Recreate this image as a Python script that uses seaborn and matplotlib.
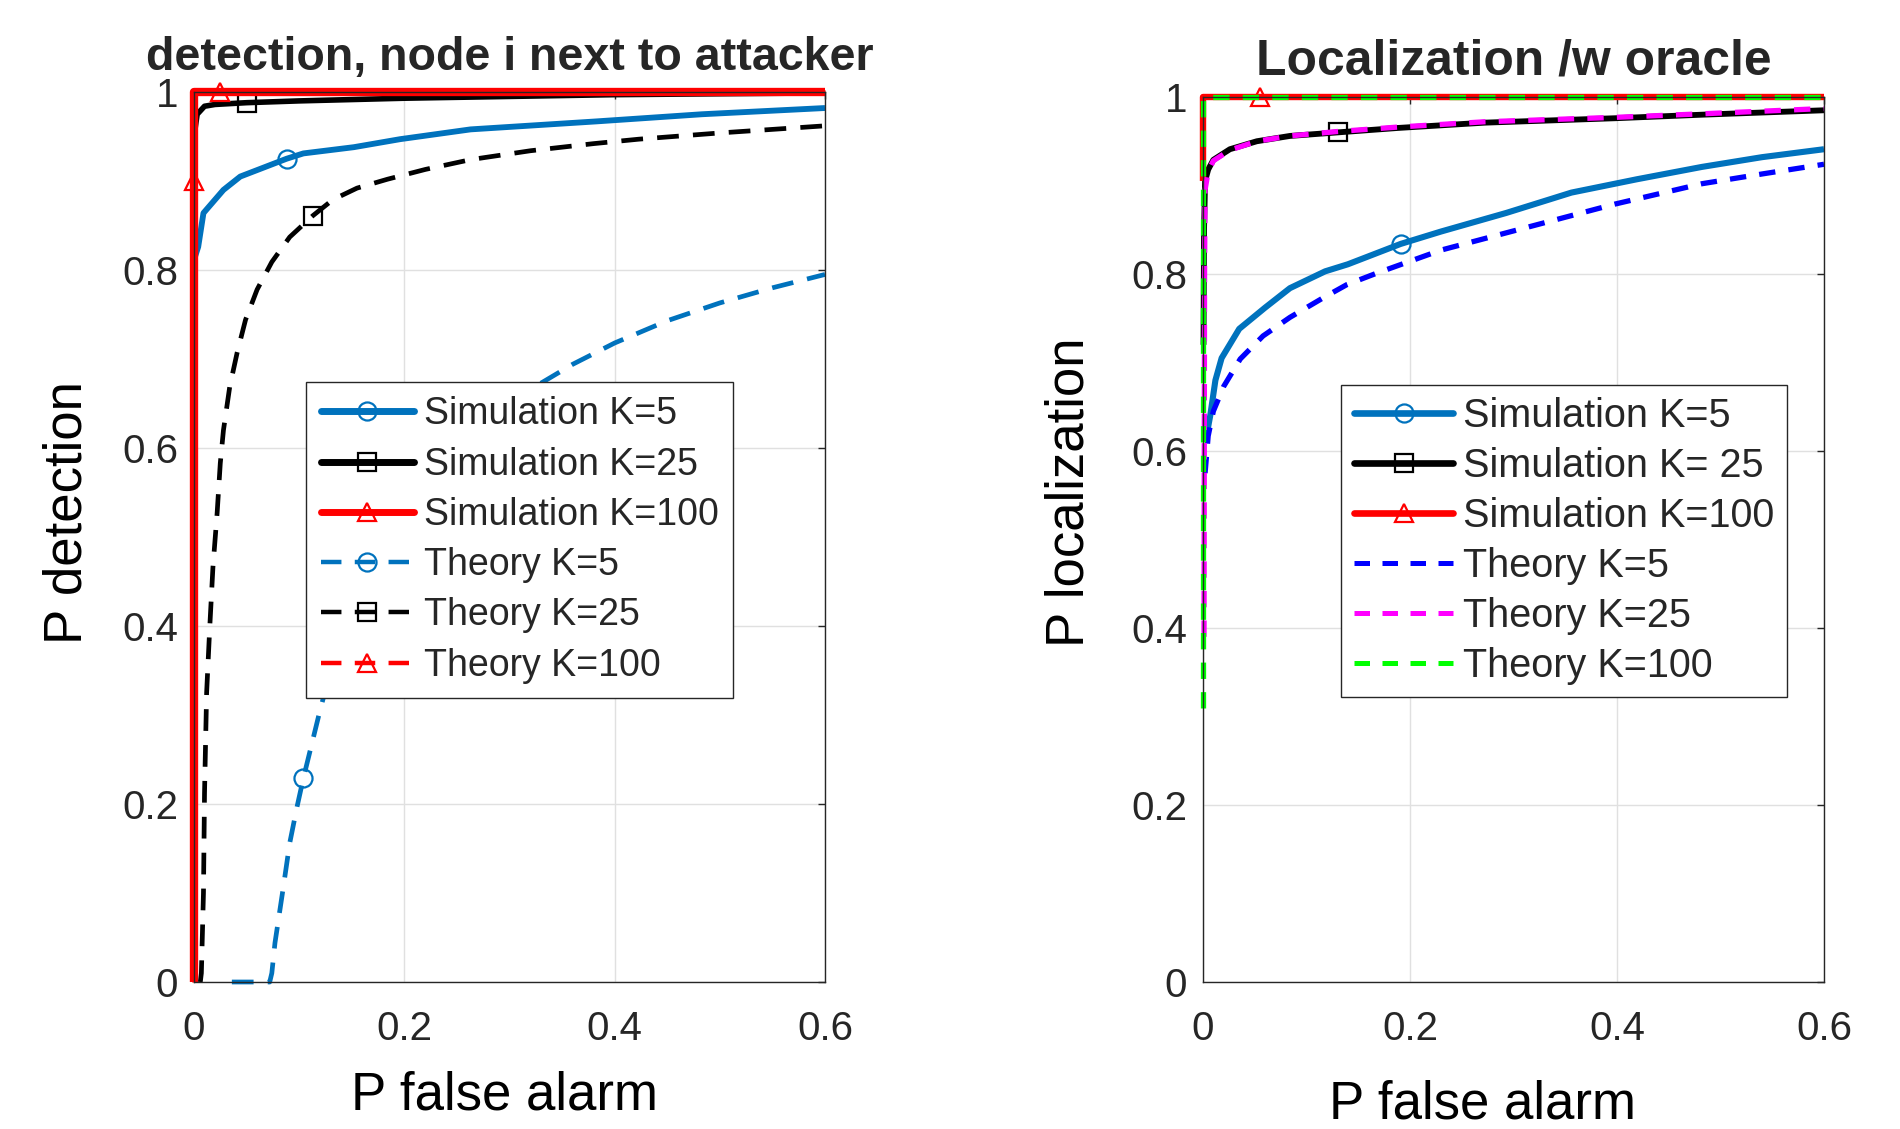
import numpy as np
import matplotlib
matplotlib.use("Agg")
import matplotlib.pyplot as plt
import seaborn as sns
from matplotlib.lines import Line2D
from matplotlib.ticker import FuncFormatter

sns.set_theme(style="white")
plt.rcParams["font.family"] = ["Liberation Sans", "DejaVu Sans"]

# ---------------- data: left panel (detection) ----------------
det_sim5_x = [0.001, 0.004, 0.009, 0.028, 0.044, 0.088, 0.104, 0.152, 0.196, 0.263, 0.383, 0.483, 0.6]
det_sim5_y = [0.815, 0.826, 0.864, 0.890, 0.905, 0.925, 0.931, 0.938, 0.947, 0.958, 0.967, 0.975, 0.982]
det_sim25_x = [0.0, 0.003, 0.01, 0.02, 0.05, 0.1, 0.2, 0.3, 0.4, 0.5, 0.6]
det_sim25_y = [0.95, 0.975, 0.984, 0.986, 0.988, 0.990, 0.993, 0.995, 0.997, 0.998, 0.999]
det_sim100_x = [0.0, 0.0, 0.025, 0.6]
det_sim100_y = [0.0, 1.0, 1.0, 1.0]
det_th5_x = [0.036, 0.072, 0.074, 0.077, 0.085, 0.091, 0.098, 0.104, 0.120, 0.13, 0.15, 0.175,
             0.2, 0.23, 0.26, 0.29, 0.323, 0.36, 0.40, 0.45, 0.50, 0.55, 0.60]
det_th5_y = [0.0, 0.0, 0.010, 0.044, 0.107, 0.156, 0.197, 0.229, 0.306, 0.35, 0.41, 0.47,
             0.52, 0.565, 0.60, 0.635, 0.668, 0.694, 0.718, 0.743, 0.763, 0.780, 0.795]
det_th25_x = [0.006, 0.007, 0.009, 0.010, 0.012, 0.015, 0.018, 0.022, 0.025, 0.028, 0.034, 0.041,
              0.049, 0.060, 0.074, 0.091, 0.113, 0.132, 0.155, 0.184, 0.22, 0.263, 0.32, 0.38,
              0.423, 0.5, 0.6]
det_th25_y = [0.0, 0.01, 0.10, 0.212, 0.325, 0.399, 0.466, 0.527, 0.583, 0.620, 0.669, 0.707,
              0.744, 0.778, 0.809, 0.837, 0.861, 0.879, 0.892, 0.902, 0.913, 0.924, 0.934, 0.942,
              0.947, 0.954, 0.962]
det_th100_x = [0.0, 0.0, 0.0, 0.6]
det_th100_y = [0.0, 0.9, 1.0, 1.0]

# ---------------- data: right panel (localization) ----------------
loc_sim5_x = [0.003, 0.007, 0.012, 0.018, 0.035, 0.06, 0.084, 0.118, 0.14, 0.191, 0.230, 0.293,
              0.356, 0.419, 0.482, 0.54, 0.6]
loc_sim5_y = [0.615, 0.640, 0.680, 0.705, 0.738, 0.762, 0.784, 0.803, 0.811, 0.834, 0.848, 0.869,
              0.892, 0.907, 0.921, 0.932, 0.941]
loc_sim25_x = [0.0005, 0.001, 0.002, 0.005, 0.010, 0.026, 0.052, 0.084, 0.130, 0.188, 0.272,
               0.398, 0.482, 0.6]
loc_sim25_y = [0.72, 0.85, 0.905, 0.918, 0.929, 0.941, 0.950, 0.956, 0.960, 0.965, 0.971,
               0.976, 0.980, 0.985]
loc_sim100_x = [0.0, 0.0, 0.055, 0.6]
loc_sim100_y = [0.905, 1.0, 1.0, 1.0]
loc_th5_x = [0.002, 0.005, 0.010, 0.020, 0.036, 0.058, 0.084, 0.116, 0.139, 0.168, 0.23, 0.314,
             0.398, 0.482, 0.54, 0.6]
loc_th5_y = [0.575, 0.617, 0.645, 0.673, 0.704, 0.730, 0.751, 0.773, 0.788, 0.801, 0.827, 0.853,
             0.879, 0.902, 0.913, 0.924]
loc_th25_x = [0.001, 0.0015, 0.002, 0.005, 0.010, 0.026, 0.052, 0.084, 0.130, 0.188, 0.272,
              0.398, 0.482, 0.6]
loc_th25_y = [0.39, 0.80, 0.895, 0.916, 0.928, 0.940, 0.950, 0.956, 0.961, 0.966, 0.972,
              0.977, 0.981, 0.987]
loc_th100_x = [0.0, 0.0, 0.6]
loc_th100_y = [0.31, 1.0, 1.0]

x_ticks = [0, 0.2, 0.4, 0.6]
y_ticks = [0, 0.2, 0.4, 0.6, 0.8, 1.0]

left_labels = ["Simulation K=5", "Simulation K=25", "Simulation K=100",
               "Theory K=5", "Theory K=25", "Theory K=100"]
right_labels = ["Simulation K=5", "Simulation K= 25", "Simulation K=100",
                "Theory K=5", "Theory K=25", "Theory K=100"]

MBLUE = "#0072BD"
DASH_L = (4.6, 3.0)
DASH_R = (3.1, 2.5)
MS = 13
MEW = 1.6


def draw(ax, x, y, color, lw, dashes=None, marker=None, mi=None):
    kw = dict(ax=ax, x=np.asarray(x), y=np.asarray(y), color=color, linewidth=lw,
              sort=False, estimator=None, legend=False)
    if marker is not None:
        kw.update(marker=marker, markevery=[mi], markersize=MS, markerfacecolor="none",
                  markeredgecolor=color, markeredgewidth=MEW)
    sns.lineplot(**kw)
    line = ax.lines[-1]
    if dashes is not None:
        line.set_dashes(dashes)
    line.set_clip_on(False)
    line.set_solid_capstyle("butt")
    line.set_dash_capstyle("butt")


def handle(color, lw, dashes=None, marker=None):
    h = Line2D([], [], color=color, lw=lw, marker=marker if marker else "None",
               markersize=MS, markerfacecolor="none", markeredgecolor=color, markeredgewidth=MEW)
    if dashes is not None:
        h.set_dashes(dashes)
    return h


fig = plt.figure(figsize=(19, 11.29), dpi=100)
ax1 = fig.add_axes([194 / 1900, 1 - 982 / 1129, 631 / 1900, 890 / 1129])
ax2 = fig.add_axes([1203 / 1900, 1 - 982 / 1129, 621 / 1900, 885 / 1129])

# left panel
draw(ax1, det_sim5_x, det_sim5_y, MBLUE, 4.2, marker="o", mi=5)
draw(ax1, det_sim25_x, det_sim25_y, "black", 4.0, marker="s", mi=4)
draw(ax1, det_sim100_x, det_sim100_y, "#FF0000", 6.0, marker="^", mi=2)
draw(ax1, det_th5_x, det_th5_y, MBLUE, 3.4, dashes=DASH_L, marker="o", mi=7)
draw(ax1, det_th25_x, det_th25_y, "black", 3.4, dashes=DASH_L, marker="s", mi=16)
draw(ax1, det_th100_x, det_th100_y, "#FF0000", 3.4, dashes=DASH_L, marker="^", mi=1)

# right panel
draw(ax2, loc_sim5_x, loc_sim5_y, MBLUE, 4.4, marker="o", mi=9)
draw(ax2, loc_sim25_x, loc_sim25_y, "black", 4.2, marker="s", mi=8)
draw(ax2, loc_sim100_x, loc_sim100_y, "#FF0000", 4.6, marker="^", mi=2)
draw(ax2, loc_th5_x, loc_th5_y, "#0000FF", 3.8, dashes=DASH_R)
draw(ax2, loc_th25_x, loc_th25_y, "#FF00FF", 3.8, dashes=DASH_R)
draw(ax2, loc_th100_x, loc_th100_y, "#00FF00", 3.8, dashes=DASH_R)

fmt = FuncFormatter(lambda v, _: "%g" % round(v, 2))
for ax in (ax1, ax2):
    ax.set_xlim(0, 0.6)
    ax.set_ylim(0, 1)
    ax.set_xticks(x_ticks)
    ax.set_yticks(y_ticks)
    ax.xaxis.set_major_formatter(fmt)
    ax.yaxis.set_major_formatter(fmt)
    ax.grid(True, color="#e0e0e0", lw=1.0)
    ax.set_axisbelow(True)
    ax.tick_params(direction="in", top=True, right=True, length=5, width=1,
                   color="#262626", labelsize=29, labelcolor="#262626")
    ax.tick_params(axis="x", pad=20)
    ax.tick_params(axis="y", pad=11.5)
    for s in ax.spines.values():
        s.set_visible(True)
        s.set_color("#262626")
        s.set_linewidth(1.0)
    ax.set_xlabel("P false alarm", fontsize=38, color="black")

ax1.set_ylabel("P detection", fontsize=38, color="black")
ax2.set_ylabel("P localization", fontsize=38, color="black")
ax1.yaxis.set_label_coords(-0.161, 0.527)
ax2.yaxis.set_label_coords(-0.175, 0.553)
ax1.xaxis.set_label_coords(0.492, -0.099)
ax2.xaxis.set_label_coords(0.45, -0.11)

ax1.set_title("detection, node i next to attacker", fontsize=33.5, fontweight="bold", pad=16)
ax2.set_title("Localization /w oracle", fontsize=35.8, fontweight="bold", pad=16)

lh = [handle(MBLUE, 5.0, marker="o"), handle("black", 5.0, marker="s"),
      handle("#FF0000", 5.0, marker="^"), handle(MBLUE, 3.2, DASH_L, "o"),
      handle("black", 3.2, DASH_L, "s"), handle("#FF0000", 3.2, DASH_L, "^")]
rh = [handle(MBLUE, 4.8, marker="o"), handle("black", 4.8, marker="s"),
      handle("#FF0000", 4.8, marker="^"), handle("#0000FF", 3.6, DASH_R),
      handle("#FF00FF", 3.6, DASH_R), handle("#00FF00", 3.6, DASH_R)]

legend_specs = ((ax1, lh, left_labels, (0.178, 0.674), 27, 0.38, 0.38),
                (ax2, rh, right_labels, (0.223, 0.675), 28.5, 0.30, 0.32))
for ax, hs, labs, anchor, fs, ls, bp in legend_specs:
    leg = ax.legend(hs, labs, loc="upper left", bbox_to_anchor=anchor, fontsize=fs,
                    frameon=True, fancybox=False, framealpha=1, edgecolor="#262626",
                    handlelength=2.5, handletextpad=0.25, borderpad=bp,
                    labelspacing=ls, borderaxespad=0)
    leg.get_frame().set_linewidth(1.0)

fig.savefig("out.png", dpi=100, facecolor="white")
